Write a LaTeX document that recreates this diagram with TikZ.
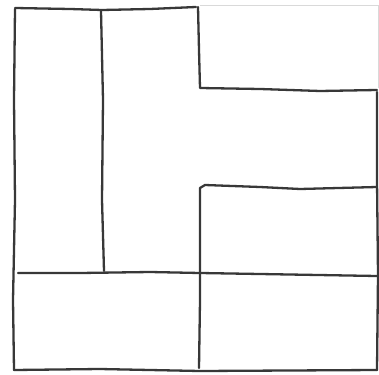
\documentclass[tikz,border=0pt]{standalone}
\begin{document}
\begin{tikzpicture}[x=1pt,y=-1pt,
  pen/.style={draw=black!78,line width=2.3pt,line cap=round,line join=round},
  paper/.style={draw=black!15,line width=0.8pt}]
\useasboundingbox (0,0) rectangle (379,374);
% faint paper edge
\draw[paper] (200,5) -- (378,5) -- (378,88);
% outer outline and partitions
\draw[pen] (15,8) -- (70,9) -- (102,10) -- (150,9) -- (196,7);
\draw[pen] (198,7) -- (199,50) -- (200,88) -- (260,89) -- (320,91) -- (377,90);
\draw[pen] (377,92) -- (377,180) -- (378,275) -- (377,370);
\draw[pen] (15,9) -- (14,100) -- (15,200) -- (13,300) -- (14,370);
\draw[pen] (14,370) -- (100,369) -- (200,371) -- (377,370);
\draw[pen] (101,11) -- (103,100) -- (102,200) -- (104,271);
\draw[pen] (18,273) -- (80,273) -- (150,272) -- (200,273) -- (260,274) -- (377,276);
\draw[pen] (199,368) -- (200,300) -- (200,230) -- (200,188) -- (205,185) -- (260,187) -- (300,189) -- (377,187);
\end{tikzpicture}
\end{document}
